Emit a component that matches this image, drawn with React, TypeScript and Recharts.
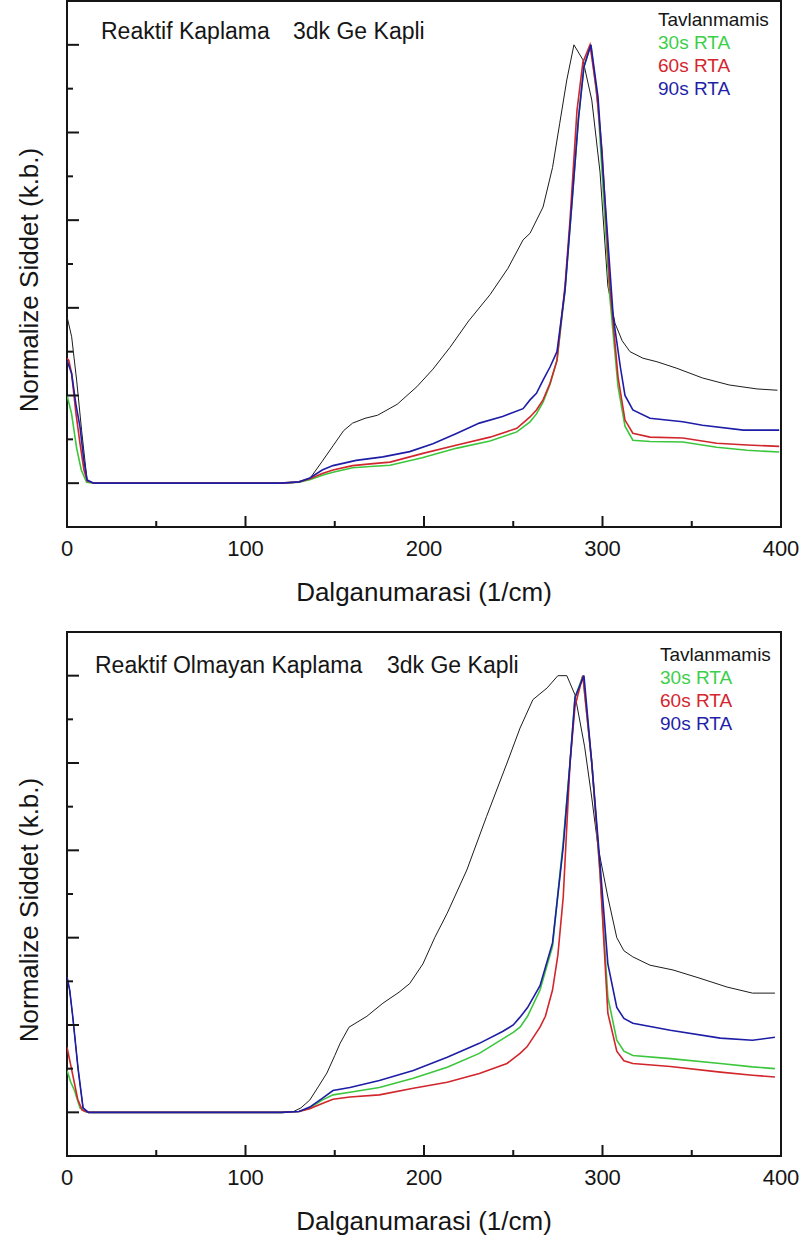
import React from 'react';
import { LineChart, Line, XAxis, YAxis, ReferenceArea } from 'recharts';

const FONT = "'Liberation Sans', Arial, sans-serif";
const INK = '#151515';

const SERIES_NAMES = ['Tavlanmamis', '30s RTA', '60s RTA', '90s RTA'];
const SERIES_COLORS = ['#1c1c1c', '#3cc63c', '#d0262c', '#1d1da6'];
const LEGEND_COLORS = ['#151515', '#3ccf4a', '#d4262e', '#1f1fa8'];

const X_TICKS = [0, 50, 100, 150, 200, 250, 300, 350, 400];
const Y_TICKS = [0, 0.1, 0.2, 0.3, 0.4, 0.5, 0.6, 0.7, 0.8, 0.9, 1.0];

// [wavenumber (1/cm), normalized intensity]
const topTavlanmamis: [number, number][] = [
  [0, 0.38], [2.6, 0.334], [5.4, 0.235], [8.2, 0.12], [11.3, 0.005], [15, 0], [60, 0], [120, 0],
  [130, 0.002], [136, 0.01], [143, 0.05], [149, 0.085], [155, 0.12], [160, 0.137], [167, 0.148],
  [174, 0.155], [185, 0.18], [196, 0.22], [205, 0.26], [214.6, 0.31], [225, 0.37], [237, 0.43],
  [247, 0.49], [255.5, 0.555], [259.4, 0.57], [266.7, 0.63], [272, 0.72], [276, 0.82], [280, 0.92],
  [284, 1.0], [289, 0.966], [294, 0.874], [298.6, 0.71], [303, 0.45], [307, 0.365], [311, 0.325],
  [315.4, 0.3], [322.7, 0.285], [330.5, 0.277], [341.7, 0.262], [356, 0.24], [371, 0.224],
  [386.5, 0.215], [398, 0.212],
];
const top30s: [number, number][] = [
  [0, 0.2], [2.5, 0.16], [5.4, 0.08], [8, 0.03], [11, 0.002], [15, 0], [60, 0], [120, 0],
  [130, 0.002], [136, 0.008], [143, 0.018], [149, 0.025], [160, 0.035], [170, 0.038], [181, 0.041],
  [199, 0.058], [218.5, 0.08], [237, 0.096], [252, 0.117], [259.4, 0.14], [263, 0.158],
  [266.7, 0.185], [270.6, 0.225], [274.5, 0.28], [279, 0.44], [283, 0.646], [286.5, 0.83],
  [289.6, 0.95], [293.5, 1.0], [297.5, 0.86], [301.4, 0.6], [304, 0.43], [306, 0.34], [308.7, 0.22],
  [312.6, 0.13], [317, 0.098], [326.6, 0.095], [345, 0.094], [364, 0.082], [381, 0.075], [399, 0.071],
];
const top60s: [number, number][] = [
  [0, 0.285], [1, 0.28], [2.6, 0.25], [5, 0.16], [7.3, 0.09], [9.5, 0.03], [11.3, 0.005], [15, 0],
  [60, 0], [120, 0], [130, 0.003], [136, 0.01], [143, 0.022], [149, 0.03], [160, 0.04], [170, 0.044],
  [181, 0.048], [199.4, 0.068], [218.5, 0.087], [237, 0.105], [252, 0.125], [259.4, 0.151],
  [263, 0.167], [266.7, 0.19], [270.6, 0.228], [274.5, 0.28], [279, 0.45], [281.8, 0.6],
  [285.7, 0.85], [289, 0.96], [293, 1.0], [296.5, 0.9], [299.7, 0.76], [304, 0.456], [308.7, 0.242],
  [312.6, 0.144], [317, 0.114], [326.6, 0.105], [345, 0.103], [364, 0.091], [381, 0.087], [399, 0.084],
];
const top90s: [number, number][] = [
  [0, 0.28], [2.6, 0.25], [5, 0.18], [7.3, 0.128], [9.5, 0.05], [11.3, 0.007], [15, 0], [60, 0],
  [120, 0], [130, 0.003], [136, 0.012], [143, 0.03], [149, 0.04], [162, 0.052], [177, 0.06],
  [192, 0.072], [205, 0.09], [218.5, 0.114], [231, 0.137], [244, 0.152], [255.5, 0.17],
  [259.4, 0.19], [263, 0.205], [266.7, 0.235], [270.6, 0.265], [274.5, 0.3], [279, 0.44],
  [283, 0.646], [286.5, 0.83], [289.6, 0.95], [293.5, 1.0], [297.5, 0.88], [301.4, 0.646],
  [306, 0.38], [310, 0.265], [312.6, 0.2], [317, 0.167], [326.6, 0.148], [345, 0.14], [356, 0.132],
  [379, 0.121], [399, 0.121],
];

const bottomTavlanmamis: [number, number][] = [
  [0, 0.31], [1.5, 0.28], [3.2, 0.22], [6.2, 0.1], [9, 0.01], [12, 0], [60, 0], [120, 0],
  [127, 0.002], [131, 0.01], [136, 0.028], [141, 0.06], [145.6, 0.09], [150, 0.13], [153, 0.158],
  [158, 0.195], [168, 0.22], [177, 0.25], [186, 0.275], [192, 0.295], [199.4, 0.34], [206, 0.4],
  [213, 0.456], [224, 0.555], [235, 0.677], [246.5, 0.8], [253.8, 0.88], [261, 0.945], [269, 0.972],
  [275, 1.0], [280, 1.0], [284.6, 0.956], [290, 0.837], [294, 0.72], [297.5, 0.608], [303, 0.493],
  [308, 0.4], [312, 0.37], [317, 0.356], [326.6, 0.337], [339.5, 0.326], [354.6, 0.307],
  [369.7, 0.287], [384, 0.273], [396.6, 0.273],
];
const bottom30s: [number, number][] = [
  [0, 0.096], [2, 0.07], [4.2, 0.05], [7.3, 0.01], [10, 0.002], [13, 0], [60, 0], [120, 0],
  [130, 0.002], [136, 0.01], [143, 0.028], [149, 0.04], [158.5, 0.046], [175, 0.057], [194, 0.078],
  [213, 0.103], [231, 0.135], [250, 0.183], [253.8, 0.195], [258, 0.22], [265, 0.28], [272, 0.38],
  [278, 0.62], [281.8, 0.8], [284.6, 0.95], [289, 1.0], [294, 0.8], [298.6, 0.55], [303, 0.264],
  [308, 0.165], [312, 0.14], [317, 0.13], [338, 0.123], [366, 0.112], [384, 0.104], [396.6, 0.1],
];
const bottom60s: [number, number][] = [
  [0, 0.149], [2, 0.11], [3.5, 0.08], [6, 0.03], [8.5, 0.005], [12, 0], [60, 0], [120, 0],
  [130, 0.002], [136, 0.008], [143, 0.02], [149, 0.03], [158.5, 0.035], [175, 0.04], [194, 0.055],
  [213, 0.069], [231, 0.089], [246.5, 0.112], [253.8, 0.135], [257.7, 0.15], [265, 0.195],
  [268, 0.22], [272, 0.28], [275, 0.36], [278, 0.493], [281.8, 0.8], [284.6, 0.93], [289, 1.0],
  [294, 0.8], [298.6, 0.55], [303, 0.227], [308, 0.14], [312, 0.118], [317, 0.112], [338, 0.105],
  [366, 0.092], [384, 0.085], [396.6, 0.081],
];
const bottom90s: [number, number][] = [
  [0, 0.31], [1.5, 0.28], [3.2, 0.22], [6.2, 0.1], [9, 0.01], [12, 0], [60, 0], [120, 0],
  [130, 0.002], [136, 0.012], [143, 0.032], [149, 0.05], [158.5, 0.057], [175, 0.073], [194, 0.096],
  [213, 0.126], [231, 0.158], [244, 0.185], [250, 0.2], [253.8, 0.218], [258, 0.24], [265, 0.29],
  [272, 0.388], [278, 0.608], [281.8, 0.8], [284.6, 0.95], [289.6, 1.0], [294, 0.8], [298.6, 0.57],
  [303, 0.34], [308, 0.24], [312, 0.215], [317, 0.204], [338, 0.188], [366, 0.17], [384, 0.165],
  [396.6, 0.172],
];

const toPoints = (pairs: [number, number][]) => pairs.map(([x, y]) => ({ x, y }));

const XTick = ({ x, y, payload }: any) => {
  const major = payload.value % 100 === 0;
  return (
    <g>
      <line x1={x} x2={x} y1={y} y2={y - (major ? 11 : 6)} stroke={INK} strokeWidth={2} />
      {major && (
        <text x={x} y={y + 29} textAnchor="middle" fontSize={22} fontFamily={FONT} fill={INK}>
          {payload.value}
        </text>
      )}
    </g>
  );
};

const YTick = ({ x, y, payload }: any) => {
  const major = Math.round(payload.value * 10) % 2 === 0;
  return <line x1={x} x2={x + (major ? 12 : 6)} y1={y} y2={y} stroke={INK} strokeWidth={2} />;
};

const XTitle = ({ viewBox }: any) => (
  <text x={viewBox.x + viewBox.width / 2} y={viewBox.y + 74} textAnchor="middle" fontSize={26} fontFamily={FONT} fill={INK}>
    Dalganumarasi (1/cm)
  </text>
);

const YTitle = ({ viewBox }: any) => {
  const cy = viewBox.y + viewBox.height / 2 + 16;
  return (
    <text x={29} y={cy} transform={`rotate(-90, 29, ${cy})`} textAnchor="middle" dominantBaseline="central" fontSize={26} fontFamily={FONT} fill={INK}>
      Normalize Siddet (k.b.)
    </text>
  );
};

interface PanelProps {
  left: string;
  right: string;
  leftX: number;
  rightX: number;
  titleTop: number;
  legendTop: number;
  legendLeft: number;
  marginTop: number;
  axisHeight: number;
  series: [number, number][][];
}

const textStyle: React.CSSProperties = { position: 'absolute', fontFamily: FONT, color: INK, whiteSpace: 'nowrap' };

const Panel: React.FC<PanelProps> = ({ left, right, leftX, rightX, titleTop, legendTop, legendLeft, marginTop, axisHeight, series }) => (
  <div style={{ position: 'relative', width: 802, height: 620 }}>
    <LineChart width={802} height={620} margin={{ top: marginTop, right: 21, bottom: 0, left: 0 }}>
      <XAxis dataKey="x" type="number" domain={[0, 400]} ticks={X_TICKS} interval={0} allowDataOverflow
        axisLine={false} tickLine={false} tickSize={0} tickMargin={0} height={axisHeight} tick={<XTick />} label={<XTitle />} />
      <YAxis type="number" domain={[-0.1, 1.1]} ticks={Y_TICKS} interval={0} allowDataOverflow
        axisLine={false} tickLine={false} tickSize={0} tickMargin={0} width={67} tick={<YTick />} label={<YTitle />} />
      <ReferenceArea x1={0} x2={400} y1={-0.1} y2={1.1} fillOpacity={0} stroke={INK} strokeWidth={2} />
      {series.map((pts, i) => (
        <Line key={SERIES_NAMES[i]} name={SERIES_NAMES[i]} data={toPoints(pts)} dataKey="y" type="linear"
          stroke={SERIES_COLORS[i]} strokeWidth={i === 0 ? 1 : 1.6} dot={false} activeDot={false} isAnimationActive={false} />
      ))}
    </LineChart>
    <span style={{ ...textStyle, left: leftX, top: titleTop, fontSize: 23, lineHeight: 1 }}>{left}</span>
    <span style={{ ...textStyle, left: rightX, top: titleTop, fontSize: 23, lineHeight: 1 }}>{right}</span>
    <div style={{ ...textStyle, left: legendLeft, top: legendTop, fontSize: 19, lineHeight: '23px' }}>
      {SERIES_NAMES.map((name, i) => (
        <div key={name} style={{ color: LEGEND_COLORS[i] }}>{name}</div>
      ))}
    </div>
  </div>
);

export default function App() {
  return (
    <div style={{ position: 'absolute', left: 0, top: 0, width: 802, height: 1240, background: '#fff' }}>
      <Panel left="Reaktif Kaplama" right="3dk Ge Kapli" leftX={101} rightX={293} titleTop={20}
        legendTop={8} legendLeft={658} marginTop={1} axisHeight={93}
        series={[topTavlanmamis, top30s, top60s, top90s]} />
      <Panel left="Reaktif Olmayan Kaplama" right="3dk Ge Kapli" leftX={95} rightX={387} titleTop={34}
        legendTop={23} legendLeft={660} marginTop={12} axisHeight={84}
        series={[bottomTavlanmamis, bottom30s, bottom60s, bottom90s]} />
    </div>
  );
}
